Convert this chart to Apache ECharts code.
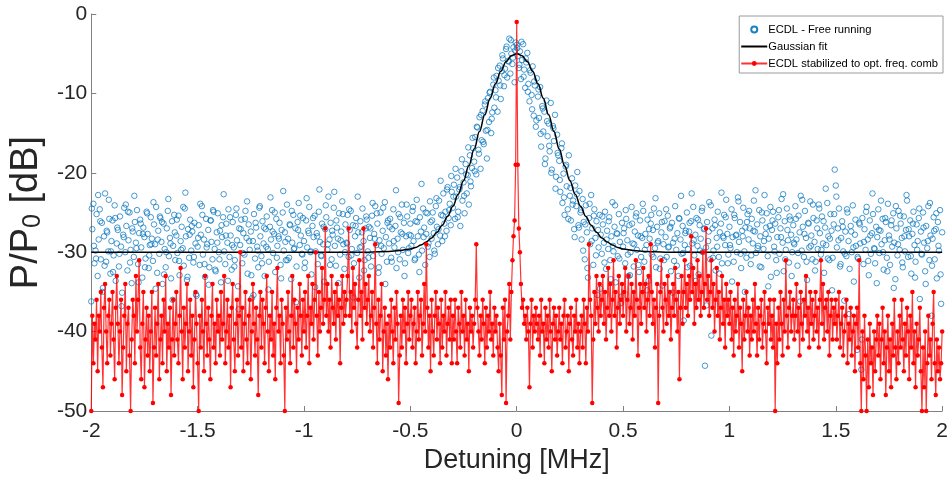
<!DOCTYPE html>
<html>
<head>
<meta charset="utf-8">
<script src="https://cdn.jsdelivr.net/npm/echarts@6/dist/echarts.min.js"></script>
<style>html,body{margin:0;padding:0;background:#fff;}#c{width:951px;height:481px;}</style>
</head>
<body>
<div id="c"></div>
<script>
// Detuning grids of the measured spectra (MHz)
const detuneStart = -2;
const detuneStep = 0.005;
const detuneStartB = -1.9975;
const detuneStepB = 0.01;

// ECDL free running (blue circles), dB, first sweep (grid detuneStart/detuneStep)
const freeRunning = [
-36.2,-27.1,-23.9,-31.4,-29.8,-25.2,-33.0,-28.4,-24.6,-30.9,-26.3,-34.5,-28.0,-22.6,-31.2,-27.5,-29.9,-25.8,-32.7,-28.6,
-26.0,-30.4,-24.1,-33.6,-28.9,-27.2,-31.8,-25.5,-29.3,-35.1,-27.8,-24.4,-30.0,-26.7,-32.3,-28.5,-25.0,-29.7,-33.9,-27.4,
-30.6,-26.2,-28.8,-24.7,-31.5,-27.6,-25.9,-29.4,-33.2,-26.9,-28.1,-30.8,-24.9,-27.7,-32.0,-29.1,-25.6,-28.3,-31.1,-26.5,
-29.0,-24.3,-32.6,-27.3,-30.2,-25.7,-28.7,-34.0,-26.4,-29.6,-31.9,-27.0,-24.8,-30.5,-28.2,-33.3,-26.1,-29.2,-25.3,-31.0,
-27.9,-30.1,-25.4,-32.9,-28.6,-26.8,-29.5,-31.7,-24.5,-28.0,-33.5,-27.1,-30.7,-25.9,-29.8,-27.4,-31.3,-26.3,-28.9,-35.5,
-29.3,-26.6,-31.6,-27.8,-24.2,-30.3,-28.4,-33.1,-25.8,-29.0,-27.2,-31.9,-26.0,-28.7,-30.9,-24.9,-29.6,-32.4,-27.5,-25.1,
-30.0,-27.3,-33.8,-28.1,-25.6,-29.9,-31.5,-26.4,-28.8,-24.6,-30.6,-27.9,-32.2,-26.2,-29.4,-31.0,-25.3,-28.5,-34.3,-27.0,
-29.1,-25.9,-31.4,-27.6,-30.3,-24.8,-28.2,-32.7,-26.5,-29.7,-27.4,-35.8,-28.6,-25.2,-30.8,-26.9,-29.3,-31.9,-24.4,-28.0,
-30.5,-26.1,-28.9,-33.0,-27.1,-25.5,-29.6,-31.2,-26.8,-28.4,-24.7,-30.1,-27.7,-32.5,-25.8,-29.2,-28.0,-26.3,-31.6,-27.2,
-25.0,-29.8,-27.5,-31.0,-24.0,-28.3,-30.7,-26.6,-33.4,-28.8,-25.3,-29.5,-27.0,-31.8,-26.2,-23.8,-29.1,-27.9,-30.2,-25.7,
-28.6,-31.3,-26.0,-29.4,-27.3,-24.3,-30.0,-32.8,-26.7,-28.1,-25.4,-29.9,-27.6,-31.5,-24.9,-28.7,-30.4,-26.4,-29.0,-33.7,
-27.1,-25.6,-29.7,-23.0,-28.4,-26.3,-30.9,-27.8,-24.4,-29.2,-31.7,-26.9,-28.3,-25.1,-30.3,-27.4,-23.6,-29.0,-32.1,-26.5,
-28.8,-25.3,-30.6,-27.2,-24.8,-29.6,-26.6,-31.4,-28.0,-25.7,-30.1,-27.5,-33.2,-26.1,-29.3,-24.5,-28.6,-31.0,-27.0,-25.9,
-29.9,-26.8,-28.2,-31.8,-25.4,-30.5,-27.7,-24.2,-29.1,-26.4,-32.6,-28.5,-25.0,-30.2,-27.3,-29.5,-23.7,-28.1,-31.2,-26.0,
-28.9,-25.8,-30.7,-27.1,-24.6,-29.4,-26.7,-32.0,-28.3,-25.2,-30.9,-27.5,-24.0,-29.7,-26.3,-31.4,-28.0,-25.5,-30.1,-27.8,
-26.4,-29.2,-24.8,-28.6,-31.0,-26.1,-23.4,-28.0,-30.3,-25.6,-27.4,-29.8,-24.5,-26.9,-31.6,-27.7,-25.1,-28.9,-30.6,-26.2,
-28.3,-25.0,-27.6,-30.2,-24.2,-26.8,-29.0,-23.5,-27.9,-25.3,-28.6,-22.6,-26.4,-24.9,-27.3,-21.8,-25.7,-23.9,-26.6,-22.4,
-24.4,-21.5,-25.8,-23.0,-20.6,-24.9,-22.1,-26.7,-19.8,-23.5,-21.2,-25.1,-18.9,-22.6,-20.3,-24.0,-17.8,-21.7,-19.4,-16.9,
-18.6,-15.5,-20.2,-14.3,-17.1,-13.0,-19.5,-15.9,-12.2,-16.4,-11.4,-14.7,-18.2,-10.6,-13.6,-9.8,-15.0,-12.4,-8.9,-11.8,
-9.6,-7.8,-12.3,-8.4,-6.5,-10.7,-7.2,-5.6,-9.1,-6.9,-4.4,-8.0,-5.9,-3.1,-7.5,-5.0,-6.3,-4.2,-8.6,-3.6,
-3.9,-5.3,-6.8,-4.7,-8.2,-5.8,-3.8,-7.0,-9.3,-6.1,-4.9,-8.8,-11.0,-7.4,-10.2,-6.6,-12.8,-9.0,-14.2,-8.1,
-10.4,-13.1,-9.2,-16.7,-11.6,-14.8,-12.3,-18.2,-10.9,-15.4,-13.8,-17.3,-11.2,-19.6,-14.1,-16.0,-12.7,-20.5,-15.2,-17.8,
-18.5,-22.4,-16.9,-23.8,-20.1,-25.3,-19.2,-21.7,-24.6,-17.8,-22.9,-26.0,-20.7,-23.5,-27.1,-21.6,-24.2,-19.9,-26.6,-22.3,
-25.0,-28.4,-23.3,-26.2,-30.9,-24.1,-27.5,-33.2,-25.7,-29.0,-22.8,-27.0,-31.6,-24.6,-28.2,-26.1,-35.4,-29.4,-25.3,-27.8,
-30.2,-26.5,-28.8,-24.9,-32.1,-27.3,-29.6,-25.6,-31.0,-28.0,-23.7,-29.9,-26.8,-33.8,-27.6,-30.5,-25.2,-28.7,-36.4,-26.3,
-29.3,-27.0,-31.4,-25.8,-28.5,-33.0,-26.6,-30.0,-24.3,-28.9,-31.8,-27.4,-25.5,-29.7,-27.9,-32.5,-26.0,-30.6,-28.2,-24.8,
-31.2,-27.7,-29.1,-25.9,-33.6,-28.3,-26.4,-30.3,-27.2,-24.5,-29.5,-31.9,-26.8,-28.6,-25.1,-30.8,-27.5,-34.2,-29.0,-26.1,
-28.1,-30.6,-25.4,-29.3,-27.0,-32.4,-26.3,-28.8,-31.1,-24.2,-29.7,-27.6,-33.0,-25.8,-28.4,-30.2,-26.7,-38.6,-29.1,-27.3,
-25.0,-29.6,-27.4,-31.7,-26.1,-28.9,-24.3,-30.4,-27.8,-25.7,-29.2,-32.8,-26.6,-28.3,-24.8,-30.0,-27.1,-44.3,-29.4,-26.2,
-28.6,-23.7,-30.9,-40.5,-27.0,-29.8,-25.9,-32.3,-28.2,-24.9,-30.6,-27.5,-26.4,-31.4,-28.0,-25.3,-29.1,-23.4,-27.7,-30.3,
-26.8,-29.5,-24.6,-28.1,-31.2,-25.7,-27.9,-30.0,-23.1,-28.7,-26.2,-32.0,-27.3,-24.4,-29.9,-26.9,-30.7,-25.2,-28.4,-27.0,
-31.5,-25.8,-28.9,-23.5,-27.4,-30.1,-26.5,-29.2,-24.7,-28.0,-31.9,-26.0,-29.6,-22.8,-27.7,-25.1,-30.5,-28.3,-26.7,-33.1,
-27.2,-24.9,-29.3,-26.4,-31.0,-28.1,-25.6,-30.2,-27.0,-23.3,-28.8,-32.4,-26.1,-29.7,-24.5,-28.5,-31.3,-25.9,-27.8,-30.0,
-26.6,-29.0,-24.2,-28.4,-31.7,-25.4,-27.5,-22.9,-29.8,-26.8,-30.6,-24.8,-28.2,-33.5,-26.3,-29.4,-23.6,-27.9,-30.9,-25.7,
-28.7,-31.2,-26.0,-29.6,-24.0,-27.6,-30.3,-25.5,-28.9,-32.6,-26.9,-29.1,-23.8,-28.0,-31.0,-25.2,-27.3,-30.7,-26.5,-19.6,
-21.6,-29.4,-27.0,-24.5,-31.8,-28.2,-26.1,-29.9,-36.1,-27.4,-30.5,-25.0,-28.6,-32.1,-26.7,-30.0,-24.1,-33.7,-27.8,-29.2,
-42.3,-30.8,-26.3,-28.9,-44.8,-25.7,-31.5,-27.1,-29.7,-24.3,-28.4,-32.9,-26.0,-30.2,-27.6,-25.2,-29.5,-31.4,-26.8,-28.1,
-24.6,-30.1,-27.3,-29.0,-25.8,-32.2,-28.5,-26.2,-30.7,-23.9,-27.9,-31.6,-26.6,-29.3,-25.1,-28.8,-33.4,-27.0,-30.4,-24.8,
-29.7,-26.4,-28.2,-31.9,-25.5,-29.9,-27.2,-23.5,-30.6,-28.0,-26.0,-32.7,-27.7,-24.9,-29.1,-31.2,-26.5,-28.6,-25.7,-35.9,
-27.4,-30.3,-25.0,-28.8,-32.4,-26.7,-29.5,-24.2,-31.0,-27.9,-38.0,-28.3,-25.6,-30.9,-27.1,-33.3,-26.2,-29.8,-24.7,-36.5,
-27.5
];

// ECDL free running, second sweep (grid detuneStartB/detuneStepB), dB
const freeRunningB = [
-24.5,-29.2,-30.8,-22.8,-26.1,-35.0,-31.7,-27.3,-23.4,-29.9,
-32.5,-25.7,-26.9,-30.2,-36.8,-28.1,-24.0,-24.9,-31.3,-27.0,
-22.9,-29.5,-33.8,-26.4,-27.7,-31.9,-25.1,-30.4,-29.0,-23.7,
-34.6,-28.4,-25.5,-26.2,-32.8,-30.0,-23.3,-28.9,-36.0,-27.5,
-25.9,-31.1,-29.7,-24.3,-22.5,-33.1,-27.8,-26.7,-30.6,-35.3,
-28.2,-23.9,-25.3,-31.5,-29.4,-34.1,-26.0,-24.7,-32.2,-28.8,
-30.9,-26.6,-22.7,-27.9,-33.6,-25.6,-29.1,-31.8,-24.5,-37.2,
-27.1,-30.1,-25.8,-23.6,-28.6,-32.9,-35.4,-26.3,-29.8,-24.2,
-31.4,-26.9,-29.3,-34.7,-23.1,-27.4,-25.0,-30.7,-28.3,-33.3,
-22.3,-28.7,-31.0,-26.5,-24.8,-29.6,-36.3,-27.2,-25.4,-30.3,
-32.0,-23.2,-27.6,-29.9,-25.7,-34.4,-28.0,-22.1,-30.5,-26.8,
-24.1,-29.0,-31.6,-27.3,-22.4,-26.0,-33.9,-28.5,-25.2,-30.0,
-28.9,-24.6,-30.4,-35.7,-26.7,-23.0,-29.4,-27.5,-32.3,-25.5,
-30.7,-27.0,-23.8,-28.3,-25.1,-31.9,-29.2,-24.4,-34.0,-26.3,
-26.8,-31.2,-28.6,-22.2,-30.0,-25.6,-27.7,-33.0,-24.0,-29.5,
-27.9,-24.3,-30.8,-26.2,-32.5,-21.4,-28.1,-25.0,-29.3,-23.6,
-26.0,-29.8,-23.2,-27.1,-21.0,-25.4,-28.0,-22.1,-24.7,-20.4,
-23.0,-19.5,-25.6,-21.8,-18.3,-22.9,-20.2,-16.8,-21.1,-15.6,
-19.8,-14.2,-17.6,-12.7,-16.1,-11.0,-14.6,-9.9,-13.2,-8.0,
-10.5,-6.8,-9.0,-5.2,-7.7,-4.1,-6.0,-3.3,-5.5,-4.6,
-4.3,-6.4,-3.5,-7.9,-5.6,-9.8,-7.1,-12.0,-8.5,-13.4,
-9.5,-15.1,-11.9,-18.9,-13.5,-16.6,-20.0,-14.4,-22.0,-17.5,
-20.9,-16.3,-23.1,-19.0,-25.8,-21.9,-24.0,-28.1,-22.7,-26.9,
-24.7,-29.8,-26.5,-32.0,-23.9,-28.6,-25.4,-30.4,-27.2,-34.6,
-25.5,-31.3,-28.4,-26.1,-33.4,-29.2,-24.1,-27.7,-30.8,-35.6,
-27.6,-24.7,-30.3,-32.9,-26.4,-29.0,-25.1,-31.6,-28.0,-23.9,
-29.7,-34.8,-27.1,-25.3,-30.6,-23.2,-28.8,-32.1,-26.2,-31.0,
-24.6,-29.4,-26.8,-35.1,-28.3,-31.7,-25.7,-22.9,-30.1,-27.6,
-31.9,-26.3,-22.6,-28.5,-33.6,-25.9,-29.8,-24.4,-27.0,-36.7,
-27.4,-24.1,-30.7,-26.6,-29.3,-32.7,-22.5,-28.2,-25.6,-31.4,
-29.1,-33.7,-25.3,-27.8,-23.6,-30.2,-28.0,-35.0,-26.2,-24.8,
-30.4,-27.3,-22.2,-29.5,-31.8,-25.0,-28.6,-26.9,-34.3,-24.3,
-26.0,-29.9,-32.6,-24.7,-28.1,-22.7,-30.9,-27.2,-25.5,-33.0,
-28.8,-25.8,-30.1,-36.2,-23.4,-27.7,-31.2,-26.4,-29.2,-24.0,
-32.3,-27.0,-24.5,-29.7,-26.1,-22.0,-30.8,-28.3,-34.8,-25.2,
-23.0,-28.5,-31.5,-26.8,-30.2,-24.6,-37.8,-27.4,-29.4,-25.9,
-30.6,-26.5,-41.0,-28.7,-24.9,-31.1,-27.9,-22.6,-29.6,-33.9,
-27.2,-23.5,-30.0,-25.7,-32.4,-28.4,-26.0,-34.5,-24.2,-29.0,
-25.4,-31.3,-28.0,-22.8,-27.1,-30.5,-26.4,-33.2,-29.7,-24.5,
-30.2,-26.9,-34.0,-28.6,-23.8,-31.7,-27.3,-25.1,-29.2,-32.8
];

// ECDL stabilized to optical frequency comb (red line + dots), dB
const stabilized = [
-50,-38,-44,-39,-41,-36,-45,-38,-40,-35,-42,-47,-37,-34,-40,-44,-38,-36,-43,-39,
-35,-41,-46,-37,-33,-39,-44,-40,-36,-48,-42,-38,-34,-45,-39,-37,-43,-50,-41,-36,
-38,-44,-33,-40,-36,-31,-42,-46,-39,-35,-47,-41,-37,-43,-38,-45,-40,-35,-49,-42,
-37,-43,-39,-34,-46,-41,-38,-44,-36,-40,-33,-45,-39,-42,-37,-48,-41,-36,-43,-39,
-35,-41,-44,-38,-32,-40,-46,-37,-42,-39,-34,-45,-40,-36,-43,-38,-47,-41,-35,-39,
-44,-50,-38,-42,-36,-40,-45,-33,-39,-43,-37,-41,-46,-38,-34,-42,-39,-44,-36,-40,
-38,-43,-35,-41,-39,-33,-44,-40,-36,-42,-38,-47,-37,-34,-41,-45,-39,-36,-43,-38,
-30,-42,-37,-45,-39,-35,-41,-44,-38,-36,-46,-40,-34,-39,-43,-37,-41,-48,-38,-35,
-42,-36,-39,-44,-37,-33,-40,-45,-38,-41,-35,-43,-39,-46,-37,-32,-40,-38,-44,-36,
-39,-43,-50,-37,-41,-35,-40,-44,-38,-33,-42,-36,-39,-45,-37,-41,-34,-38,-43,-36,
-40,-35,-42,-38,-33,-44,-37,-39,-34,-41,-36,-30,-38,-43,-35,-40,-37,-32,-39,-36,
-27,-38,-34,-40,-36,-42,-33,-37,-39,-35,-41,-34,-38,-36,-44,-37,-33,-39,-35,-38,
-36,-33,-27,-38,-35,-40,-32,-37,-34,-39,-42,-36,-31,-38,-35,-41,-27,-37,-34,-39,
-36,-33,-40,-38,-35,-42,-37,-29,-39,-44,-36,-41,-38,-34,-45,-40,-37,-43,-39,-46,
-38,-42,-36,-40,-44,-37,-41,-35,-39,-49,-43,-38,-42,-36,-40,-37,-44,-39,-35,-41,
-38,-36,-42,-39,-37,-44,-40,-35,-41,-38,-36,-43,-39,-34,-40,-29,-37,-42,-38,-45,
-36,-40,-43,-38,-35,-41,-37,-39,-44,-36,-42,-38,-40,-35,-43,-39,-37,-41,-36,-44,
-38,-41,-36,-40,-44,-37,-39,-42,-35,-40,-38,-43,-36,-41,-39,-45,-37,-40,-38,-42,
-39,-36,-29,-37,-40,-43,-38,-41,-36,-39,-44,-37,-42,-38,-40,-35,-41,-39,-43,-37,
-40,-38,-42,-45,-39,-43,-48,-37,-41,-36,-49,-40,-38,-34,-41,-35,-31,-28,-26,-19,
-1,-19,-27,-30,-34,-37,-36,-39,-38,-41,-37,-40,-47,-39,-36,-42,-38,-40,-37,-39,
-41,-38,-43,-36,-40,-39,-44,-37,-41,-38,-42,-36,-40,-45,-39,-37,-41,-38,-43,-40,
-37,-41,-39,-44,-38,-36,-42,-40,-38,-45,-39,-37,-41,-43,-38,-40,-36,-42,-39,-44,
-40,-38,-42,-36,-39,-44,-37,-40,-29,-36,-38,-49,-41,-35,-39,-33,-37,-40,-34,-38,
-36,-33,-39,-35,-41,-37,-32,-38,-34,-40,-36,-31,-38,-35,-42,-37,-33,-39,-36,-34,
-38,-35,-32,-40,-36,-33,-39,-37,-34,-41,-35,-38,-31,-36,-43,-37,-34,-39,-35,-32,
-37,-34,-40,-36,-33,-38,-29,-35,-39,-36,-42,-37,-34,-49,-38,-35,-31,-37,-40,-34,
-36,-39,-33,-38,-35,-41,-37,-34,-38,-32,-36,-40,-35,-46,-37,-33,-39,-35,-31,-37,
-34,-38,-33,-36,-28,-35,-32,-39,-34,-37,-31,-36,-33,-38,-35,-30,-37,-34,-27,-36,
-33,-38,-35,-31,-37,-34,-40,-36,-32,-38,-35,-41,-37,-33,-39,-36,-42,-34,-38,-36,
-39,-35,-41,-37,-43,-36,-40,-38,-34,-42,-37,-39,-45,-36,-41,-38,-35,-40,-37,-43,
-38,-41,-36,-40,-34,-39,-43,-37,-41,-38,-36,-42,-39,-35,-40,-44,-37,-39,-36,-41,
-38,-42,-36,-50,-39,-44,-37,-41,-35,-39,-43,-36,-40,-31,-38,-42,-37,-35,-40,-38,
-36,-41,-38,-34,-40,-37,-43,-35,-39,-41,-36,-38,-33,-40,-37,-42,-35,-39,-36,-41,
-38,-35,-40,-37,-42,-36,-31,-39,-34,-41,-37,-36,-40,-35,-43,-38,-36,-41,-37,-39,
-36,-41,-38,-35,-42,-39,-37,-43,-40,-38,-36,-44,-39,-41,-37,-43,-40,-38,-45,-39,
-37,-42,-31,-44,-50,-40,-46,-38,-43,-50,-41,-47,-39,-44,-42,-48,-40,-45,-41,-38,
-43,-39,-46,-41,-37,-44,-40,-48,-42,-38,-45,-41,-47,-39,-43,-36,-42,-46,-40,-44,
-38,-42,-36,-41,-45,-39,-43,-37,-40,-46,-38,-42,-35,-44,-40,-47,-39,-43,-41,-37,
-45,-50,-42,-47,-40,-50,-44,-38,-43,-41,-46,-39,-35,-44,-48,-41,-45,-42,-46,-44,
-40
];

const gaussX = [-2,-1,-0.7,-0.6,-0.55,-0.5,-0.475,-0.45,-0.425,-0.4,-0.375,-0.35,-0.325,-0.3,-0.275,-0.25,-0.225,-0.2,-0.175,-0.15,-0.125,-0.1,-0.075,-0.05,-0.025,0,
  0.025,0.05,0.075,0.1,0.125,0.15,0.175,0.2,0.225,0.25,0.275,0.3,0.325,0.35,0.375,0.4,0.425,0.45,0.475,0.5,0.55,0.6,0.7,1,2];
const gaussY = [-30,-30,-30,-29.9,-29.8,-29.6,-29.4,-29.1,-28.7,-28.2,-27.5,-26.6,-25.5,-24.2,-22.7,-21.0,-19.1,-17.0,-14.8,-12.7,-10.6,-8.8,-7.2,-6.0,-5.25,-5,
  -5.25,-6.0,-7.2,-8.8,-10.6,-12.7,-14.8,-17.0,-19.1,-21.0,-22.7,-24.2,-25.5,-26.6,-27.5,-28.2,-28.7,-29.1,-29.4,-29.6,-29.8,-29.9,-30,-30,-30];

const xTicks = [-2,-1.5,-1,-0.5,0,0.5,1,1.5,2];
const yTicks = [-50,-40,-30,-20,-10,0];
const seriesNames = ['ECDL - Free running','Gaussian fit','ECDL stabilized to opt. freq. comb'];

const FONT = "'Liberation Sans', Arial, Helvetica, sans-serif";
const gridX = (s, d) => i => +(s + i * d).toFixed(4);
const xA = gridX(detuneStart, detuneStep);
const xB = gridX(detuneStartB, detuneStepB);
const blueData = freeRunning.map((v, i) => [xA(i), v]).concat(freeRunningB.map((v, i) => [xB(i), v]));
const redData = stabilized.map((v, i) => [xA(i), v]);
const gaussData = gaussX.map((x, i) => [x, gaussY[i]]);

const chart = echarts.init(document.getElementById('c'), null, {renderer: 'canvas'});
chart.setOption({
  animation: false,
  backgroundColor: '#ffffff',
  grid: {left: 90, right: 8, top: 14, bottom: 70, containLabel: false},
  legend: {
    orient: 'vertical',
    right: 8, top: 16,
    backgroundColor: '#fff',
    borderColor: '#9a9a9a', borderWidth: 1, borderRadius: 0,
    padding: [7, 5, 3, 1],
    itemGap: 4,
    itemWidth: 26, itemHeight: 6,
    textStyle: {fontFamily: FONT, fontSize: 11.2, lineHeight: 13, color: '#000', padding: [0,0,0,-4]},
    data: [
      {name: seriesNames[0]},
      {name: seriesNames[1], itemStyle: {opacity: 0}},
      {name: seriesNames[2]}
    ]
  },
  xAxis: {
    type: 'value', min: -2, max: 2, interval: 0.5,
    name: 'Detuning [MHz]', nameLocation: 'middle', nameGap: 34,
    nameTextStyle: {fontFamily: FONT, fontSize: 27, color: '#262626'},
    axisLine: {show: true, onZero: false, lineStyle: {color: '#808080', width: 1}},
    axisTick: {show: true, inside: true, length: 5, lineStyle: {color: '#808080'}},
    axisLabel: {fontFamily: FONT, fontSize: 21, color: '#262626', margin: 10,
      formatter: v => xTicks.includes(v) ? String(v) : ''},
    splitLine: {show: false}
  },
  yAxis: {
    type: 'value', min: -50, max: 0, interval: 10,
    name: '{a|P/P}{s|0}{a| [dB]}', nameLocation: 'middle', nameGap: 41, nameRotate: 90,
    nameTextStyle: {
      rich: {
        a: {fontFamily: FONT, fontSize: 38, color: '#262626', verticalAlign: 'bottom', lineHeight: 40},
        s: {fontFamily: FONT, fontSize: 25, color: '#262626', verticalAlign: 'bottom', lineHeight: 24}
      }
    },
    axisLine: {show: true, onZero: false, lineStyle: {color: '#808080', width: 1}},
    axisTick: {show: true, inside: true, length: 5, lineStyle: {color: '#808080'}},
    axisLabel: {fontFamily: FONT, fontSize: 21, color: '#262626', margin: 4,
      formatter: v => yTicks.includes(v) ? String(v) : ''},
    splitLine: {show: false}
  },
  series: [
    {
      name: seriesNames[0], type: 'scatter', data: blueData,
      symbol: 'circle', symbolSize: 5.5,
      itemStyle: {color: 'rgba(255,255,255,0)', borderColor: '#0072BD', borderWidth: 0.8, opacity: 0.9},
      z: 2
    },
    {
      name: seriesNames[1], type: 'line', data: gaussData,
      symbol: 'none', smooth: 0.4, smoothMonotone: 'x',
      lineStyle: {color: '#000', width: 1.5},
      itemStyle: {color: '#000'},
      z: 3
    },
    {
      name: seriesNames[2], type: 'line', data: redData,
      symbol: 'circle', symbolSize: 4.5, showSymbol: true, showAllSymbol: true,
      sampling: null,
      lineStyle: {color: '#ff0000', width: 1.2, opacity: 0.8},
      itemStyle: {color: '#ff0000'},
      z: 4
    }
  ]
});
</script>
</body>
</html>
